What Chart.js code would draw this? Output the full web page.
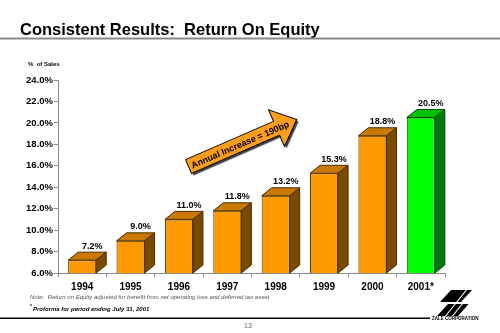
<!DOCTYPE html>
<html>
<head>
<meta charset="utf-8">
<title>Return On Equity</title>
<script src="https://cdn.jsdelivr.net/npm/chart.js@4.4.0/dist/chart.umd.min.js"></script>
<style>
  html, body { margin: 0; padding: 0; background: #fff; }
  #roe { display: block; }
</style>
</head>
<body>
<canvas id="roe" width="500" height="333"></canvas>
<script>
// --- dados ---
const years = ['1994', '1995', '1996', '1997', '1998', '1999', '2000', '2001*'];
const roeValues = [7.2, 9.0, 11.0, 11.8, 13.2, 15.3, 18.8, 20.5];
const yTicks = [6, 8, 10, 12, 14, 16, 18, 20, 22, 24];

const FONT = '"Liberation Sans", Arial, sans-serif';
Chart.defaults.font.family = FONT;

// cores das faces (frente, topo, lateral)
const orange = { front: '#ff9900', top: '#c97800', side: '#7a4a00', edge: '#4a2e00' };
const green = { front: '#00ff00', top: '#00c000', side: '#007a10', edge: '#004a00' };
const faces = roeValues.map((v, i) => i === roeValues.length - 1 ? green : orange);

const DEPTH_X = 10, DEPTH_Y = 8;

// --- faces 3D das barras + rótulos de valor ---
const bar3d = {
    id: 'bar3d',
    afterDatasetsDraw(chart) {
        const ctx = chart.ctx;
        const meta = chart.getDatasetMeta(0);
        const bottom = chart.chartArea.bottom;
        meta.data.forEach((bar, i) => {
            const p = bar.getProps(['x', 'y', 'base', 'width'], true);
            const x = p.x, y = p.y, width = p.width;
            const base = Math.min(p.base, bottom); // eixo começa em 6%, não em zero
            const L = x - width / 2, R = x + width / 2;
            const c = faces[i];
            ctx.save();
            ctx.lineWidth = 1;
            ctx.strokeStyle = c.edge;
            // topo
            ctx.beginPath();
            ctx.moveTo(L, y);
            ctx.lineTo(L + DEPTH_X, y - DEPTH_Y);
            ctx.lineTo(R + DEPTH_X, y - DEPTH_Y);
            ctx.lineTo(R, y);
            ctx.closePath();
            ctx.fillStyle = c.top;
            ctx.fill();
            ctx.stroke();
            // lateral
            ctx.beginPath();
            ctx.moveTo(R, y);
            ctx.lineTo(R + DEPTH_X, y - DEPTH_Y);
            ctx.lineTo(R + DEPTH_X, base - DEPTH_Y);
            ctx.lineTo(R, base);
            ctx.closePath();
            ctx.fillStyle = c.side;
            ctx.fill();
            ctx.stroke();
            // rótulo
            ctx.fillStyle = '#000';
            ctx.font = 'bold 9px ' + FONT;
            ctx.textAlign = 'center';
            ctx.textBaseline = 'middle';
            ctx.fillText(roeValues[i].toFixed(1) + '%', x + DEPTH_X, y - DEPTH_Y - 6);
            ctx.restore();
        });
    }
};

// --- título, notas, seta e logotipo ---
function drawArrow(ctx) {
    ctx.save();
    ctx.translate(188.5, 166.5);
    ctx.rotate(-23.5 * Math.PI / 180);
    ctx.beginPath();
    ctx.moveTo(0, -7.5);
    ctx.lineTo(96, -7.5);
    ctx.lineTo(96, -20);
    ctx.lineTo(118, 0);
    ctx.lineTo(96, 20);
    ctx.lineTo(96, 7.5);
    ctx.lineTo(0, 7.5);
    ctx.closePath();
    ctx.shadowColor = 'rgba(0,0,0,0.75)';
    ctx.shadowOffsetX = 2;
    ctx.shadowOffsetY = 2;
    ctx.shadowBlur = 1;
    ctx.fillStyle = '#ff9e1a';
    ctx.fill();
    ctx.shadowColor = 'transparent';
    ctx.lineWidth = 1;
    ctx.strokeStyle = '#000';
    ctx.stroke();
    ctx.fillStyle = '#000';
    ctx.font = 'bold 9px ' + FONT;
    ctx.textAlign = 'center';
    ctx.textBaseline = 'middle';
    ctx.fillText('Annual Increase = 190bp', 56, 1);
    ctx.restore();
}

function drawLogo(ctx) {
    ctx.save();
    ctx.fillStyle = '#000';
    // dois blocos inclinados
    const blocks = [
        [[451, 290], [472, 290], [461, 302], [440, 302]],
        [[448, 304], [469, 304], [458, 316], [437, 316]]
    ];
    blocks.forEach(p => {
        ctx.beginPath();
        ctx.moveTo(p[0][0], p[0][1]);
        p.slice(1).forEach(q => ctx.lineTo(q[0], q[1]));
        ctx.closePath();
        ctx.fill();
    });
    // listras brancas diagonais
    ctx.strokeStyle = '#fff';
    ctx.lineWidth = 1.2;
    for (let k = 0; k < 4; k++) {
        ctx.beginPath();
        ctx.moveTo(444 + k * 7, 318);
        ctx.lineTo(468 + k * 7, 288);
        ctx.stroke();
    }
    ctx.fillStyle = '#000';
    ctx.font = 'bold 4.5px ' + FONT;
    ctx.textAlign = 'left';
    ctx.textBaseline = 'middle';
    ctx.fillText('ZALE CORPORATION', 432, 319);
    ctx.restore();
}

const decor = {
    id: 'decor',
    beforeDraw(chart) {
        const ctx = chart.ctx;
        ctx.save();
        ctx.fillStyle = '#fff';
        ctx.fillRect(0, 0, chart.width, chart.height);

        ctx.fillStyle = '#000';
        ctx.font = 'bold 16.5px ' + FONT;
        ctx.textBaseline = 'alphabetic';
        ctx.fillText('Consistent Results:  Return On Equity', 20, 35);

        ctx.fillStyle = '#8a8a8a';
        ctx.fillRect(0, 37.5, 500, 2);

        ctx.fillStyle = '#000';
        ctx.font = 'bold 6px ' + FONT;
        ctx.textBaseline = 'middle';
        ctx.fillText('%  of Sales', 28, 64);

        ctx.fillStyle = '#555';
        ctx.font = 'italic 6px ' + FONT;
        ctx.fillText('Note:  Return on Equity adjusted for benefit from net operating loss and deferred tax asset', 30, 297);

        ctx.fillStyle = '#000';
        ctx.font = 'bold 5px ' + FONT;
        ctx.fillText('*', 30, 307);
        ctx.font = 'italic bold 6px ' + FONT;
        ctx.fillText('Proforma for period ending July 31, 2001', 33, 309);

        ctx.fillRect(0, 317.5, 430, 1.5);

        ctx.fillStyle = '#666';
        ctx.font = '7px ' + FONT;
        ctx.textAlign = 'center';
        ctx.fillText('13', 248, 326);
        ctx.restore();
    },
    afterDraw(chart) {
        drawArrow(chart.ctx);
        drawLogo(chart.ctx);
    }
};

new Chart(document.getElementById('roe'), {
    type: 'bar',
    data: {
        labels: years,
        datasets: [{
            data: roeValues,
            backgroundColor: faces.map(c => c.front),
            borderColor: faces.map(c => c.edge),
            borderWidth: 1,
            barPercentage: 0.58,
            categoryPercentage: 1
        }]
    },
    options: {
        responsive: false,
        devicePixelRatio: 1,
        animation: false,
        layout: { padding: { top: 80, right: 55, bottom: 36, left: 0 } },
        plugins: { legend: { display: false }, tooltip: { enabled: false } },
        scales: {
            y: {
                min: 6,
                max: 24,
                afterFit(scale) { scale.width = 58; },
                afterBuildTicks(scale) { scale.ticks = yTicks.map(v => ({ value: v })); },
                border: { color: '#8a8a8a' },
                grid: { drawOnChartArea: false, tickLength: 4, color: '#8a8a8a' },
                ticks: {
                    color: '#000',
                    padding: 1,
                    font: { size: 9.5, weight: 'bold' },
                    callback: v => v.toFixed(1) + '%'
                }
            },
            x: {
                afterFit(scale) { scale.height = 24; },
                border: { color: '#8a8a8a' },
                grid: { drawOnChartArea: false, tickLength: 4, color: '#8a8a8a', offset: true },
                ticks: {
                    color: '#000',
                    padding: 4,
                    font: { size: 10, weight: 'bold' }
                }
            }
        }
    },
    plugins: [decor, bar3d]
});
</script>
</body>
</html>
